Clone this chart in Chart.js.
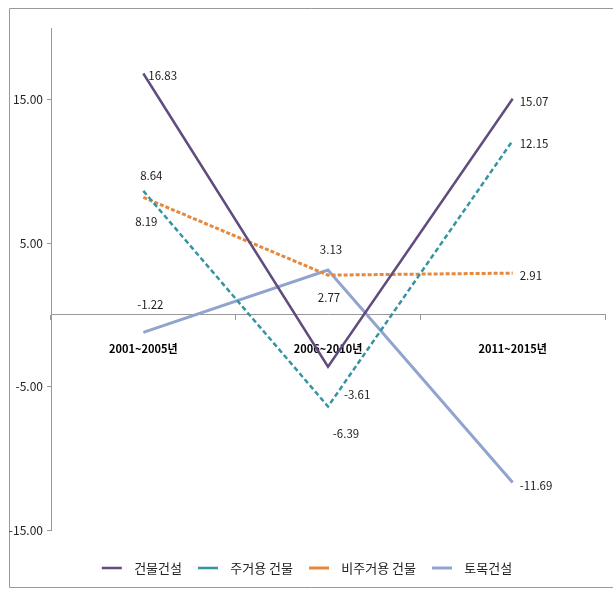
<!DOCTYPE html>
<html>
<head>
<meta charset="utf-8">
<script src="https://cdn.jsdelivr.net/npm/chart.js@4/dist/chart.umd.min.js"></script>
<style>
  body { margin:0; background:#fff; overflow:hidden; }
  canvas { display:block; }
</style>
</head>
<body>
<canvas id="chart" width="613" height="591"></canvas>
<script>
// chart data
const periods = ['2001~2005년', '2006~2010년', '2011~2015년'];
const seriesNames = ['건물건설', '주거용 건물', '비주거용 건물', '토목건설'];
const buildingTotal = [16.83, -3.61, 15.07];
const residential = [8.64, -6.39, 12.15];
const nonResidential = [8.19, 2.77, 2.91];
const civil = [-1.22, 3.13, -11.69];
const yTicks = [-15, -5, 5, 15];

// label placement per series/point: [dx, dy, align]
const labelOffsets = [
  [[5, 2, 'left'], [16, 28, 'left'], [7, 3, 'left']],
  [[8, -15, 'center'], [18, 27, 'center'], [7, 3, 'left']],
  [[3, 24, 'center'], [1, 22, 'center'], [7, 3, 'left']],
  [[7, -28, 'center'], [3, -20, 'center'], [7, 3, 'left']]
];

const FONT = "'Liberation Sans Narrow', 'Noto Sans CJK KR', sans-serif";

// outer frame (left, top, bottom edges only)
const frame = {
  id: 'frame',
  beforeDraw(chart){
    const ctx = chart.ctx;
    ctx.save();
    ctx.strokeStyle = '#999';
    ctx.lineWidth = 1;
    ctx.beginPath();
    ctx.moveTo(640, 8.5); ctx.lineTo(9.5, 8.5); ctx.lineTo(9.5, 587.5); ctx.lineTo(640, 587.5);
    ctx.stroke();
    ctx.restore();
  }
};

const pointLabels = {
  id: 'pointLabels',
  afterDatasetsDraw(chart){
    const ctx = chart.ctx;
    ctx.save();
    ctx.font = '11.5px ' + FONT;
    ctx.fillStyle = '#222';
    ctx.textBaseline = 'middle';
    chart.data.datasets.forEach((ds, i)=>{
      chart.getDatasetMeta(i).data.forEach((pt, j)=>{
        const o = labelOffsets[i][j];
        ctx.textAlign = o[2];
        ctx.fillText(ds.data[j].toFixed(2), pt.x + o[0], pt.y + o[1]);
      });
    });
    ctx.restore();
  }
};

new Chart(document.getElementById('chart'), {
  type: 'line',
  data: {
    labels: periods,
    datasets: [
      { label: seriesNames[0], data: buildingTotal, borderColor: '#614C7E', backgroundColor: '#614C7E', borderWidth: 2.5 },
      { label: seriesNames[1], data: residential, borderColor: '#3494A4', backgroundColor: '#3494A4', borderWidth: 2.5, borderDash: [5, 3] },
      { label: seriesNames[2], data: nonResidential, borderColor: '#E4893D', backgroundColor: '#E4893D', borderWidth: 3, borderDash: [4, 2] },
      { label: seriesNames[3], data: civil, borderColor: '#90A4CF', backgroundColor: '#90A4CF', borderWidth: 3 }
    ]
  },
  options: {
    responsive: false,
    devicePixelRatio: 1,
    animation: false,
    elements: { point: { radius: 0 }, line: { tension: 0 } },
    layout: { padding: { left: 9, top: 28, right: 8, bottom: 6.5 } },
    plugins: {
      tooltip: { enabled: false },
      legend: {
        position: 'bottom',
        title: { display: true, text: '', font: { size: 10 }, padding: { top: 0, bottom: 3.5 } },
        labels: {
          usePointStyle: true,
          pointStyle: 'line',
          pointStyleWidth: 20,
          padding: 16,
          color: '#222',
          font: { family: FONT, size: 13 },
          generateLabels: chart => {
            const items = Chart.defaults.plugins.legend.labels.generateLabels(chart);
            items.forEach(it => { it.text = '  ' + it.text; });
            return items;
          }
        }
      }
    },
    scales: {
      x: {
        position: { y: 0 },
        offset: true,
        grid: { offset: true, drawOnChartArea: false, tickLength: 5, color: '#999' },
        border: { color: '#999' },
        ticks: { color: '#000', padding: 22, font: { family: FONT, size: 11, weight: 'bold' } }
      },
      y: {
        min: -15,
        max: 20,
        afterBuildTicks: s => { s.ticks = yTicks.map(v => ({ value: v })); },
        afterFit: s => { s.width = 42; },
        grid: { drawOnChartArea: false, tickLength: 4, color: '#999' },
        border: { color: '#999' },
        ticks: { color: '#222', padding: 4, font: { family: FONT, size: 12 }, callback: v => v.toFixed(2) }
      }
    }
  },
  plugins: [frame, pointLabels]
});
</script>
</body>
</html>
